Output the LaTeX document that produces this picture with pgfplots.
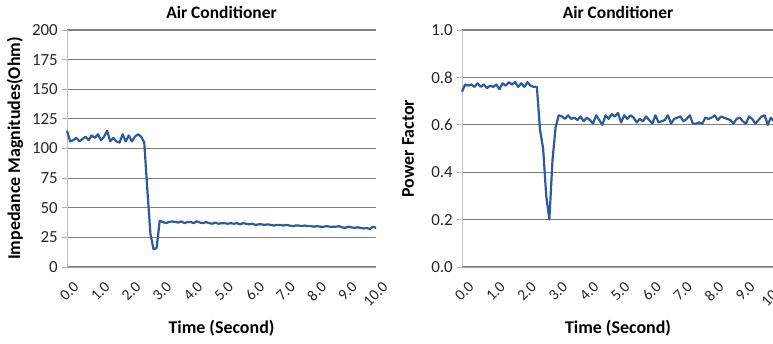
\documentclass[border=0pt]{standalone}
\usepackage{fontspec}
\setmainfont{Carlito}
\usepackage{pgfplots}
\pgfplotsset{compat=1.18}
\definecolor{ln}{HTML}{2C5A9E}
\definecolor{gr}{HTML}{7F7F7F}
\pgfplotsset{
  acstyle/.style={
    scale only axis,
    width=309bp, height=237bp,
    xmin=0, xmax=10,
    xtick={0,1,...,10},
    xticklabels={0.0,1.0,2.0,3.0,4.0,5.0,6.0,7.0,8.0,9.0,10.0},
    x tick label style={rotate=45, anchor=north east, font=\fontsize{15.5}{15.5}\selectfont, text=black!85, inner sep=0pt, xshift=-2bp, yshift=-10bp},
    y tick label style={font=\fontsize{17}{17}\selectfont, text=black!85, inner sep=0pt, xshift=-4bp},
    /pgf/number format/assume math mode=true,
    ymajorgrids,
    grid style={gr, line width=1.1pt},
    axis x line*=bottom,
    axis y line*=left,
    x axis line style={gr!70, line width=1pt, -},
    y axis line style={gr!50, line width=1pt, -},
    major x tick style={draw=none},
    ytick style={gr!60, line width=0.8pt},
    tick align=outside,
    major tick length=5bp,
    title style={font=\bfseries\fontsize{17.5}{17.5}\selectfont, at={(axis description cs:0.5,1.05)}, anchor=center},
    xlabel style={font=\bfseries\fontsize{18}{18}\selectfont, at={(axis description cs:0.5,-0.257)}, anchor=center},
    ylabel style={font=\bfseries\fontsize{18}{18}\selectfont, anchor=center},
    xlabel={Time (Second)},
    title={Air Conditioner},
    clip=false,
  }
}
\begin{document}
\begin{tikzpicture}
\begin{axis}[acstyle,
  ymin=0, ymax=200, ytick={0,25,...,200},
  ylabel={Impedance Magnitudes(Ohm)},
  ylabel style={at={(axis description cs:-0.168,0.5)}},
]
\addplot[ln, line width=2.2pt, line join=round] coordinates {
(0.0,115)(0.1,106)(0.2,107)(0.3,109)(0.4,106)(0.5,108)(0.6,110)(0.7,107)(0.8,111)(0.9,109)
(1.0,112)(1.1,107)(1.2,110)(1.3,115)(1.4,106)(1.5,109)(1.6,106)(1.7,105)(1.8,112)(1.9,106)
(2.0,111)(2.1,106)(2.2,110)(2.3,112)(2.4,110)(2.5,105)(2.6,65)(2.7,28)(2.8,15)(2.9,16)
(3.0,39)(3.1,38)(3.2,37)(3.3,38)(3.4,38.5)(3.5,38)(3.6,37.5)(3.7,38.5)(3.8,37)(3.9,38)
(4.0,38)(4.1,37)(4.2,38.5)(4.3,37.5)(4.4,37)(4.5,38)(4.6,37)(4.7,36.5)(4.8,37.5)(4.9,36.5)
(5.0,37)(5.1,37)(5.2,36.5)(5.3,37)(5.4,36.5)(5.5,37)(5.6,36)(5.7,37)(5.8,36.5)(5.9,36)
(6.0,36.5)(6.1,35.5)(6.2,36)(6.3,36)(6.4,35.5)(6.5,36)(6.6,35.5)(6.7,35)(6.8,35.5)(6.9,35.5)
(7.0,35)(7.1,35.5)(7.2,35)(7.3,34.5)(7.4,35)(7.5,35)(7.6,34.5)(7.7,35)(7.8,34.5)(7.9,34.5)
(8.0,34)(8.1,34.5)(8.2,34)(8.3,34)(8.4,34.5)(8.5,34)(8.6,34)(8.7,34)(8.8,34.5)(8.9,33.5)
(9.0,33)(9.1,34)(9.2,33.5)(9.3,33)(9.4,33.5)(9.5,33)(9.6,32.5)(9.7,33)(9.8,32)(9.9,34)(10.0,33)
};
\end{axis}
\begin{axis}[acstyle, xshift=395bp, width=312bp,
  ymin=0, ymax=1, ytick={0,0.2,...,1.0},
  yticklabel style={/pgf/number format/fixed, /pgf/number format/fixed zerofill, /pgf/number format/precision=1},
  ylabel={Power Factor},
  ylabel style={at={(axis description cs:-0.173,0.5)}},
]
\addplot[ln, line width=2.2pt, line join=round] coordinates {
(0.0,0.74)(0.1,0.77)(0.2,0.765)(0.3,0.77)(0.4,0.76)(0.5,0.775)(0.6,0.76)(0.7,0.77)(0.8,0.755)(0.9,0.765)
(1.0,0.76)(1.1,0.77)(1.2,0.75)(1.3,0.775)(1.4,0.765)(1.5,0.78)(1.6,0.77)(1.7,0.78)(1.8,0.76)(1.9,0.775)
(2.0,0.76)(2.1,0.78)(2.2,0.765)(2.3,0.76)(2.4,0.76)(2.5,0.58)(2.6,0.50)(2.7,0.30)(2.8,0.20)(2.9,0.45)
(3.0,0.59)(3.1,0.640)(3.2,0.635)(3.3,0.625)(3.4,0.640)(3.5,0.625)(3.6,0.630)(3.7,0.620)(3.8,0.635)(3.9,0.615)
(4.0,0.630)(4.1,0.620)(4.2,0.605)(4.3,0.640)(4.4,0.620)(4.5,0.600)(4.6,0.640)(4.7,0.625)(4.8,0.645)(4.9,0.635)
(5.0,0.650)(5.1,0.610)(5.2,0.640)(5.3,0.625)(5.4,0.640)(5.5,0.630)(5.6,0.610)(5.7,0.625)(5.8,0.615)(5.9,0.635)
(6.0,0.620)(6.1,0.605)(6.2,0.640)(6.3,0.610)(6.4,0.615)(6.5,0.620)(6.6,0.640)(6.7,0.605)(6.8,0.625)(6.9,0.630)
(7.0,0.635)(7.1,0.615)(7.2,0.625)(7.3,0.640)(7.4,0.605)(7.5,0.605)(7.6,0.610)(7.7,0.605)(7.8,0.630)(7.9,0.625)
(8.0,0.630)(8.1,0.640)(8.2,0.620)(8.3,0.635)(8.4,0.630)(8.5,0.625)(8.6,0.620)(8.7,0.605)(8.8,0.625)(8.9,0.630)
(9.0,0.615)(9.1,0.605)(9.2,0.635)(9.3,0.625)(9.4,0.605)(9.5,0.620)(9.6,0.635)(9.7,0.640)(9.8,0.600)(9.9,0.630)(10.0,0.615)
};
\end{axis}
\pgfresetboundingbox
\path[use as bounding box] (-67bp,267bp) rectangle (706bp,-77bp);
\end{tikzpicture}
\end{document}
